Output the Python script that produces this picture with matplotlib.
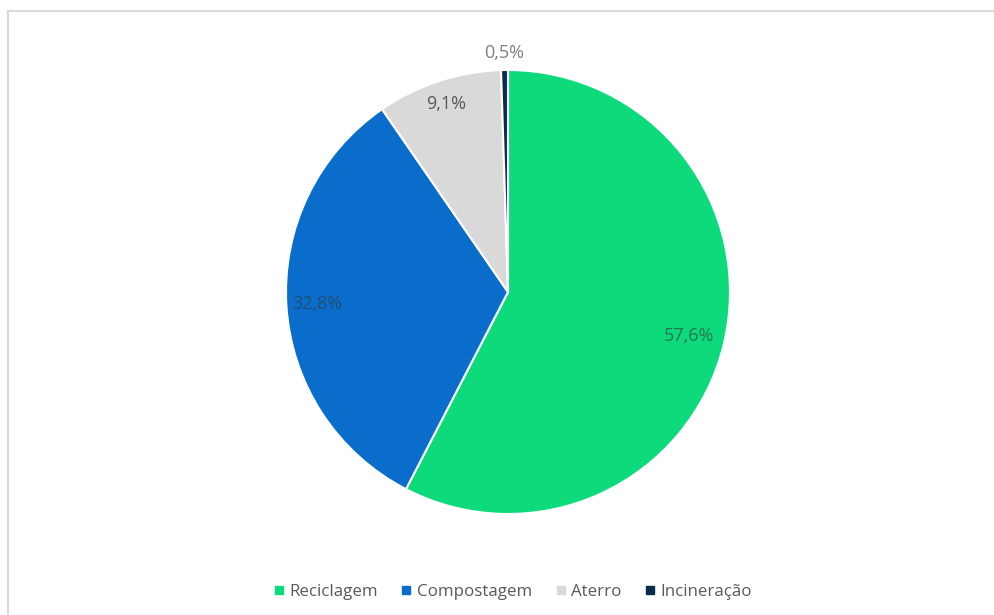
import numpy as np
import matplotlib
matplotlib.use('Agg')
import matplotlib.pyplot as plt
from matplotlib.patches import Rectangle

plt.rcParams['font.family'] = ['Open Sans', 'DejaVu Sans']

# data
categories = ['Reciclagem', 'Compostagem', 'Aterro', 'Incineração']
values = [57.6, 32.8, 9.1, 0.5]
pct_labels = ['57,6%', '32,8%', '9,1%', '0,5%']
colors = ['#0ddb7b', '#0a6dcc', '#d9d9d9', '#0c2a4c']
label_dist = [0.84, 0.86, 0.89, 1.075]
label_colors = [(0.2, 0.2, 0.2, 0.6), (0.2, 0.2, 0.2, 0.55), '#595959', '#7f7f7f']

fig = plt.figure(figsize=(9.94, 6.15), dpi=100)
# chart area border (left/top visible only)
fig.patches.append(Rectangle((8/994, -0.1), 1.2, (615-11)/615 + 0.1, transform=fig.transFigure,
                             fill=False, edgecolor='#d9d9d9', linewidth=1.5))

ax = fig.add_axes([(508-222)/994, (615-514)/615, 444/994, 444/615])
wedges, _ = ax.pie(values, colors=colors, startangle=90, counterclock=False,
                   wedgeprops=dict(edgecolor='white', linewidth=1.5), radius=1.0)
ax.set_xlim(-1.0, 1.0)
ax.set_ylim(-1.0, 1.0)
ax.set_aspect('equal')
ax.axis('off')

for w, txt, d, c in zip(wedges, pct_labels, label_dist, label_colors):
    ang = np.deg2rad((w.theta1 + w.theta2) / 2.0)
    ax.text(d*np.cos(ang), d*np.sin(ang), txt, ha='center', va='center',
            fontsize=13, color=c)

handles = [plt.Line2D([], [], marker='s', linestyle='', markersize=6, color=c) for c in colors]
fig.legend(handles, categories, loc='center', bbox_to_anchor=(511/994, 23/615), ncol=4,
           frameon=False, fontsize=12.2, handletextpad=0.1, columnspacing=1.2,
           labelcolor='#595959', handlelength=1.0)

fig.savefig('out.png', dpi=100, facecolor='white')
